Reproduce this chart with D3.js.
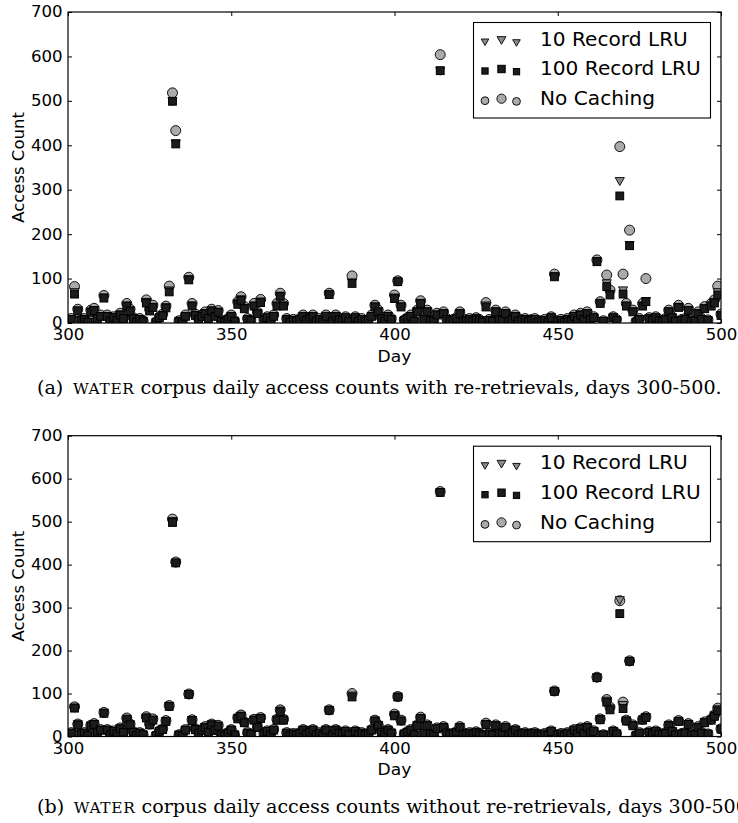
<!DOCTYPE html>
<html><head><meta charset="utf-8">
<script src="https://cdn.jsdelivr.net/npm/d3@7"></script>
<style>body{margin:0;background:#fff} svg{display:block}</style>
</head><body>
<svg id="c" width="738" height="823"></svg>
<script>
const firstDay = 300, lastDay = 500;
const xTicks = [300, 350, 400, 450, 500];
const yTicks = [0, 100, 200, 300, 400, 500, 600, 700];
const seriesNames = ["10 Record LRU", "100 Record LRU", "No Caching"];

// (a) with re-retrievals, days 300..500
const aNoCache = [
5,10,82,31,8,10,2,29,33,12, 18,62,18,5,14,8,22,12,44,31, 12,3,10,5,52,31,40,2,14,20,
38,83,518,433,5,3,18,103,44,20, 10,18,25,12,31,18,28,5,2,10, 18,5,48,59,37,10,7,44,25,53,
8,14,5,18,44,67,44,10,3,8, 5,10,18,8,12,18,5,10,3,18, 67,5,18,10,8,14,5,106,14,5,
10,5,8,18,40,29,12,5,18,10, 63,95,40,7,12,18,5,29,50,10, 29,8,5,22,604,25,10,5,8,12,
25,5,8,10,5,12,8,3,46,8, 5,29,10,8,25,5,10,18,5,8, 10,5,8,10,3,5,8,2,14,110,
5,8,3,10,5,18,8,22,10,25, 10,14,142,48,5,108,74,14,8,397, 110,44,209,29,3,10,44,100,12,8,
14,8,5,10,29,14,5,40,8,10, 33,5,7,25,10,37,7,44,52,83, 20];
const aLRU10 = [
4,9,70,29,7,9,2,26,30,11, 16,58,16,4,13,7,20,11,40,29, 11,2,9,4,48,29,37,2,13,18,
36,74,500,405,4,2,16,99,40,18, 9,16,23,11,29,16,26,4,2,9, 16,4,45,54,34,9,6,40,23,49,
7,13,4,16,40,62,40,9,2,7, 4,9,16,7,11,16,4,9,2,16, 65,4,16,9,7,13,4,92,13,4,
9,4,7,16,38,27,11,4,16,9, 58,94,38,6,11,16,4,27,46,9, 27,7,4,20,568,23,9,4,7,11,
23,4,7,9,4,11,7,2,40,7, 4,27,9,7,23,4,9,16,4,7, 9,4,7,9,2,4,7,2,13,106,
4,7,2,9,4,16,7,20,9,23, 9,13,140,46,4,90,66,13,7,320, 74,40,176,27,2,9,40,50,11,7,
13,7,4,9,27,13,4,37,7,9, 30,4,6,23,9,34,6,40,48,70, 18];
const aLRU100 = [
4,8,65,27,6,8,2,24,28,10, 15,56,15,4,12,6,18,10,38,27, 10,2,8,4,45,27,35,2,12,17,
34,70,499,403,4,2,15,97,38,17, 8,15,21,10,27,15,24,4,2,8, 15,4,42,51,32,8,6,38,21,46,
6,12,4,15,38,60,38,8,2,6, 4,8,15,6,10,15,4,8,2,15, 64,4,15,8,6,12,4,89,12,4,
8,4,6,15,36,25,10,4,15,8, 55,93,36,6,10,15,4,25,44,8, 25,6,4,18,568,21,8,4,6,10,
21,4,6,8,4,10,6,2,36,6, 4,25,8,6,21,4,8,15,4,6, 8,4,6,8,2,4,6,2,12,104,
4,6,2,8,4,15,6,18,8,21, 8,12,138,44,4,82,63,12,6,286, 65,38,174,25,2,8,38,48,10,6,
12,6,4,8,25,12,4,35,6,8, 28,4,6,21,8,32,6,38,45,63, 17];

// (b) without re-retrievals, days 300..500
const bNoCache = [
4,9,69,29,7,9,2,26,30,11, 16,56,16,4,13,7,20,11,43,29, 11,2,9,4,46,29,41,2,13,18,
37,72,506,406,4,2,16,99,39,18, 9,16,23,11,29,16,26,4,2,9, 16,4,44,50,34,9,6,40,23,44,
7,13,4,16,40,62,40,9,2,7, 4,9,16,7,11,16,4,9,2,16, 62,4,16,9,7,13,4,100,13,4,
9,4,7,16,38,27,11,4,16,9, 52,93,38,6,11,16,4,27,45,9, 27,7,4,20,570,23,9,4,7,11,
23,4,7,9,4,11,7,2,31,7, 4,27,9,7,23,4,9,16,4,7, 9,4,7,9,2,4,7,2,13,106,
4,7,2,9,4,16,7,20,9,23, 9,13,138,41,4,86,68,13,7,316, 80,38,176,27,2,9,40,46,11,7,
13,7,4,9,27,13,4,37,7,9, 30,4,6,23,9,34,6,40,50,66, 18];
const bLRU10 = [
4,9,68,29,7,9,2,26,30,11, 16,56,16,4,13,7,20,11,42,29, 11,2,9,4,45,29,40,2,13,18,
36,72,502,405,4,2,16,99,39,18, 9,16,23,11,29,16,26,4,2,9, 16,4,43,49,34,9,6,40,23,44,
7,13,4,16,40,61,40,9,2,7, 4,9,16,7,11,16,4,9,2,16, 62,4,16,9,7,13,4,96,13,4,
9,4,7,16,38,27,11,4,16,9, 51,93,38,6,11,16,4,27,44,9, 27,7,4,20,569,23,9,4,7,11,
23,4,7,9,4,11,7,2,30,7, 4,27,9,7,23,4,9,16,4,7, 9,4,7,9,2,4,7,2,13,106,
4,7,2,9,4,16,7,20,9,23, 9,13,138,41,4,84,66,13,7,318, 74,38,176,27,2,9,40,46,11,7,
13,7,4,9,27,13,4,37,7,9, 30,4,6,23,9,34,6,40,50,64, 18];
const bLRU100 = [
3,8,66,27,6,8,2,24,28,10, 15,54,15,4,12,6,18,10,40,27, 10,2,8,4,43,27,38,2,12,16,
35,70,498,404,4,2,15,98,37,16, 8,15,21,10,27,15,24,4,2,8, 15,4,41,47,32,8,6,38,21,42,
6,12,4,15,38,58,38,8,2,6, 4,8,15,6,10,15,4,8,2,15, 61,4,15,8,6,12,4,92,12,4,
8,4,6,15,36,25,10,4,15,8, 48,92,36,6,10,15,4,25,42,8, 25,6,4,18,568,21,8,4,6,10,
21,4,6,8,4,10,6,2,28,6, 4,25,8,6,21,4,8,15,4,6, 8,4,6,8,2,4,6,2,12,105,
4,6,2,8,4,15,6,18,8,21, 8,12,137,39,4,80,62,12,6,286, 65,36,175,25,2,8,38,44,10,6,
12,6,4,8,25,12,4,35,6,8, 28,4,6,21,8,32,6,38,47,60, 17];

const captionA = ["(a)\u2002", "WATER", " corpus daily access counts with re-retrievals, days 300-500."];
const captionB = ["(b)\u2002", "WATER", " corpus daily access counts without re-retrievals, days 300-500."];

const svg = d3.select("#c");
const SX = 1.07; // horizontal stretch of the reference
const days = d3.range(firstDay, lastDay + 1);
const col = {circle: "#aaaaaa", tri: "#8a8a8a", sq: "#1c1c1c"};

function panel(id, top, bottom, lru10, lru100, noCache, dayY) {
  const left = 68, right = 721;
  const x = d3.scaleLinear().domain([firstDay, lastDay]).range([left, right]);
  const y = d3.scaleLinear().domain([0, 700]).range([bottom, top]);
  const g = svg.append("g");
  g.append("clipPath").attr("id", "clip" + id).append("rect")
    .attr("x", left).attr("y", top).attr("width", right - left).attr("height", bottom - top);
  const pts = g.append("g").attr("clip-path", `url(#clip${id})`);

  pts.selectAll("circle").data(days).join("circle")
    .attr("cx", d => x(d)).attr("cy", (d, i) => y(noCache[i])).attr("r", 5)
    .attr("fill", col.circle).attr("stroke", "#111").attr("stroke-width", 1);
  const tri = d3.symbol().type(d3.symbolTriangle).size(36);
  pts.selectAll("path.t").data(days).join("path").attr("class", "t")
    .attr("d", tri).attr("transform", (d, i) => `translate(${x(d)},${y(lru10[i]) - 0.6}) rotate(180)`)
    .attr("fill", col.tri).attr("stroke", "#111").attr("stroke-width", 1);
  const s = 7.8;
  pts.selectAll("rect").data(days).join("rect")
    .attr("x", d => x(d) - s / 2).attr("y", (d, i) => y(lru100[i]) - s / 2)
    .attr("width", s).attr("height", s)
    .attr("fill", col.sq).attr("stroke", "#000").attr("stroke-width", 1);

  const fs = 15.5;
  const ax = g.append("g").attr("transform", `translate(0,${bottom})`)
    .call(d3.axisBottom(x).tickValues(xTicks).tickSizeInner(-4).tickSizeOuter(0).tickPadding(6));
  const ay = g.append("g").attr("transform", `translate(${left},0)`)
    .call(d3.axisLeft(y).tickValues(yTicks).tickSizeInner(-4).tickSizeOuter(0).tickPadding(5));
  g.append("g").attr("transform", `translate(0,${top})`)
    .call(d3.axisTop(x).tickValues(xTicks).tickSizeInner(-4).tickSizeOuter(0).tickFormat(""));
  g.append("g").attr("transform", `translate(${right},0)`)
    .call(d3.axisRight(y).tickValues(yTicks).tickSizeInner(-4).tickSizeOuter(0).tickFormat(""));
  g.selectAll(".domain").remove();
  g.selectAll(".tick line").attr("stroke", "#000");
  g.selectAll(".tick text").attr("font-family", "DejaVu Sans").attr("font-size", fs).attr("fill", "#000");
  ax.selectAll(".tick text").attr("transform", `scale(${SX},1)`);
  ay.selectAll(".tick text").attr("transform", `scale(${SX},1)`);
  g.append("rect").attr("x", left).attr("y", top).attr("width", right - left).attr("height", bottom - top)
    .attr("fill", "none").attr("stroke", "#000").attr("stroke-width", 1.2);

  g.append("text").attr("transform", `translate(${(left + right) / 2},${dayY}) scale(${SX},1)`)
    .attr("text-anchor", "middle").attr("font-family", "DejaVu Sans").attr("font-size", 16).text("Day");
  g.append("text").attr("transform", `translate(24,${(top + bottom) / 2}) rotate(-90)`)
    .attr("text-anchor", "middle").attr("font-family", "DejaVu Sans").attr("font-size", 16.5).text("Access Count");

  const lg = g.append("g").attr("transform", `translate(0,${top})`);
  lg.append("rect").attr("x", 473.5).attr("y", 10.5).attr("width", 237).attr("height", 95.5)
    .attr("fill", "#fff").attr("stroke", "#000").attr("stroke-width", 1.1);
  const base = [33.5, 63.3, 93];
  const mx = [485, 501.5, 516.5], my = [-4.3, -6.3, -3.6], ms = [0.85, 1, 0.85];
  seriesNames.forEach((name, k) => {
    mx.forEach((xx, j) => {
      const cy = base[k] + my[j];
      if (k === 0) {
        lg.append("path").attr("d", d3.symbol().type(d3.symbolTriangle).size(34 * ms[j] * ms[j]))
          .attr("transform", `translate(${xx},${cy}) rotate(180)`)
          .attr("fill", col.tri).attr("stroke", "#111");
      } else if (k === 1) {
        const ss = 7.4 * ms[j];
        lg.append("rect").attr("x", xx - ss / 2).attr("y", cy - ss / 2).attr("width", ss).attr("height", ss)
          .attr("fill", col.sq).attr("stroke", "#000");
      } else {
        lg.append("circle").attr("cx", xx).attr("cy", cy).attr("r", 4.6 * ms[j])
          .attr("fill", col.circle).attr("stroke", "#111");
      }
    });
    lg.append("text").attr("transform", `translate(540,${base[k]}) scale(1.06,1)`)
      .attr("font-family", "DejaVu Sans").attr("font-size", 19).text(name);
  });
}

panel("a", 12, 323, aLRU10, aLRU100, aNoCache, 362);
panel("b", 435.7, 736.5, bLRU10, bLRU100, bNoCache, 775);

function caption(parts) {
  const t = svg.append("text").attr("font-family", "DejaVu Serif").attr("font-size", 18).attr("fill", "#000");
  t.append("tspan").text(parts[0]);
  t.append("tspan").attr("font-size", 14.5).attr("letter-spacing", 0.6).text(parts[1]);
  t.append("tspan").text(parts[2]);
  return t;
}
const ca = caption(captionA);
const w = ca.node().getComputedTextLength();
const kx = 685 / w;
ca.attr("transform", `translate(37,393.5) scale(${kx},1)`);
const cb = caption(captionB);
cb.attr("transform", `translate(37,812.5) scale(${kx},1)`);
</script>
</body></html>
